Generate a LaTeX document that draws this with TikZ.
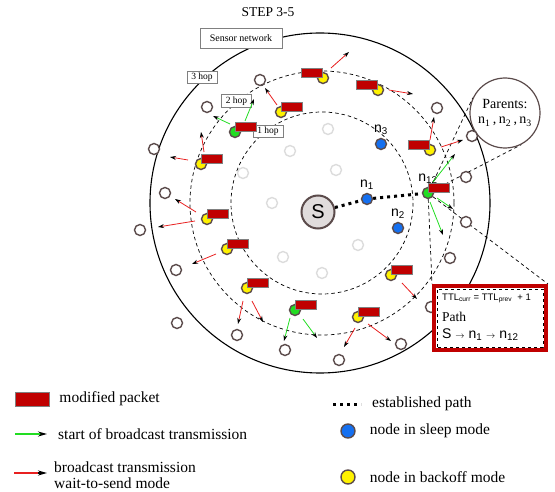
\documentclass[tikz,border=0pt]{standalone}
\usepackage{fontspec}
\setmainfont{Liberation Serif}
\newfontfamily\arialfont{Liberation Sans}
\usetikzlibrary{positioning,arrows.meta,calc}
\pgfdeclarelayer{background}
\pgfsetlayers{background,main}

\definecolor{pktred}{HTML}{C00000}
\definecolor{rim}{HTML}{5B4B4B}
\definecolor{sleepblue}{HTML}{1570F0}
\definecolor{txgreen}{HTML}{22DD22}
\definecolor{txred}{HTML}{E82020}
\definecolor{faint}{HTML}{DCDCDC}
\definecolor{srcgray}{HTML}{E0DCDC}

\newcommand{\nsub}[1]{n\textsubscript{#1}}

\tikzset{
  mote/.style={circle,draw=rim,line width=1.4pt,fill=white,minimum size=11pt,inner sep=0pt},
  ghost/.style={mote,draw=faint},
  sleep/.style={mote,fill=sleepblue},
  backoff/.style={mote,fill=yellow},
  sender/.style={mote,fill=txgreen},
  packet/.style={draw=gray,line width=0.6pt,fill=pktred,minimum width=21pt,minimum height=9pt,inner sep=0pt},
  headtip/.style={-{Stealth[color=black,length=6pt,width=4pt]}},
  bigtip/.style={-{Stealth[color=black,length=9pt,width=5pt]}},
  txarrow/.style={color=txred,line width=0.8pt},
  bcarrow/.style={color=txgreen,line width=0.8pt},
  ring/.style={dash pattern=on 3.5pt off 3pt,line width=0.7pt},
  cone/.style={ring},
  estab/.style={line width=3pt,dash pattern=on 3pt off 4pt},
  hopbox/.style={draw=gray,fill=white,line width=0.6pt,minimum width=30pt,minimum height=12.5pt,inner sep=0pt,font=\fontsize{9.5}{10}\selectfont},
  nlabel/.style={font=\arialfont\fontsize{14}{14}\selectfont,inner sep=0pt,label distance=3pt},
  legtext/.style={anchor=west,inner sep=0pt,font=\fontsize{15.5}{16.5}\selectfont},
}

\begin{document}
\begin{tikzpicture}[x=1pt,y=-1pt]
  \useasboundingbox (0,0) rectangle (555,492);

  % Titel
  \node[font=\fontsize{13.5}{14}\selectfont] (title) at (268,12) {STEP 3-5};

  % Ringe
  \draw[line width=1.1pt] (320,203) circle (170);
  \draw[ring] (322,203) circle (132);
  \draw[ring] (322,203) circle (91);

  \node[hopbox,minimum width=82pt,minimum height=20pt,font=\fontsize{10}{11}\selectfont] (net) at (241,38) {Sensor network};
  \node[hopbox] (hop3) at (202,77.5) {3 hop};
  \node[hopbox] (hop2) at (236.5,101) {2 hop};
  \node[hopbox] (hop1) at (268,131.5) {1 hop};

  % Eltern
  \node[circle,draw=rim,line width=1.2pt,fill=white,minimum size=70pt,align=center,
        font=\fontsize{14}{15}\selectfont] (parents) at (505,113) {Parents:\\\nsub{1}\,,\,\nsub{2}\,,\,\nsub{3}};

  % Knoten
  \foreach \x/\y [count=\i] in {328/129,290/151,336/170,243/173,272/203,358/245,283/257,322/273}
    \node[ghost] (f\i) at (\x,\y) {};
  \foreach \x/\y [count=\i] in {260/80,207/107,154/149,165/193,140/230,176/270,177/323,237/335,
                                 285/350,339/360,401/344,450/258,466/222,466/177,472/136,437/108,431/307}
    \node[mote] (m\i) at (\x,\y) {};

  \node[circle,draw=rim,line width=2pt,fill=srcgray,minimum size=33pt,inner sep=0pt,
        font=\arialfont\fontsize{20}{20}\selectfont] (S) at (318,212) {S};
  \node[sleep,label={[nlabel]above:\nsub{1}}] (n1) at (367,199) {};
  \node[sleep,label={[nlabel]above:\nsub{2}}] (n2) at (398,228) {};
  \node[sleep,label={[nlabel]above:\nsub{3}}] (n3) at (381,144) {};
  \node[sender,label={[nlabel]above:\nsub{12}}] (n12) at (428,193) {};
  \node[packet,anchor=south west] (p13) at (n12.center) {};

  \foreach \i/\x/\y/\side in {1/323/78/south east,2/378/90/south east,3/281/112/south west,
                              5/201/164/south west,6/207/219/south west,7/227/249/south west,
                              8/247/288/south west,10/358/317/south west,11/391/275/south west,
                              12/430/150/south east} {
    \node[backoff] (b\i) at (\x,\y) {};
    \node[packet,anchor=\side] (p\i) at (b\i.center) {};
  }
  \foreach \i/\x/\y in {4/235/132,9/295/310} {
    \node[sender] (b\i) at (\x,\y) {};
    \node[packet,anchor=south west] (p\i) at (b\i.center) {};
  }

  % Broadcast
  \foreach \xa/\ya/\xb/\yb in {331/68/349/52,389/90/413/94,277/105/265/88,204/152/201/132,
                               188/160/170/157,196/212/175/199,195/221/158/227,216/254/192/264,
                               243/301/238/324,252/301/263/322,355/328/344/347,368/324/391/341,
                               402/283/417/299,430/140/434/117,441/147/463/140}
    \draw[txarrow,headtip] (\xa,\ya) -- (\xb,\yb);
  \foreach \xa/\ya/\xb/\yb in {230/124/213/116,245/121/254/99,290/318/284/341,303/319/317/338,
                               433/182/455/154,437/198/453/209,430/202/443/235}
    \draw[bcarrow,headtip] (\xa,\ya) -- (\xb,\yb);

  % Pfad
  \node[draw=pktred,line width=4pt,fill=white,minimum width=112pt,minimum height=64pt] (pathbox) at (490,318) {};
  \draw[dashed,line width=0.6pt] ($(pathbox.south west)+(5,-5)$) rectangle ($(pathbox.north east)+(-5,5)$);
  \node[anchor=west,inner sep=0pt,font=\arialfont\fontsize{9.5}{10}\selectfont] (ttl) at (442,298)
    {TTL\textsubscript{curr} = TTL\textsubscript{prev}\ \ + 1};
  \node[anchor=west,inner sep=0pt,font=\fontsize{13.5}{14}\selectfont] (pathtxt) at (442,317) {Path};
  \node[anchor=west,inner sep=0pt,font=\arialfont\fontsize{14}{14}\selectfont] (route) at (442,335)
    {S {\fontsize{9}{9}\selectfont$\rightarrow$} \nsub{1} {\fontsize{9}{9}\selectfont$\rightarrow$} \nsub{12}};

  \begin{pgfonlayer}{background}
    \draw[estab] (S) -- (n1) -- (n12);
    \draw[cone] (n12) -- (tangent cs:node=parents,point={(n12)},solution=1);
    \draw[cone] (n12) -- (tangent cs:node=parents,point={(n12)},solution=2);
    \draw[cone] (n12) -- (pathbox.north west);
    \draw[cone] (n12) -- (pathbox.north east);
  \end{pgfonlayer}

  % Legende
  \node[packet,minimum width=34pt,minimum height=14pt] (legpkt) at (32,399) {};
  \node[legtext,right=10pt of legpkt] (legpkttxt) {modified packet};
  \coordinate (lg1) at (15,434);
  \coordinate (lg2) at (47,434);
  \draw[bcarrow,bigtip,line width=1.2pt] (lg1) -- (lg2);
  \node[legtext,right=11pt of lg2] (legbctxt) {start of broadcast transmission};
  \coordinate (lr1) at (14,473);
  \coordinate (lr2) at (47,473);
  \draw[txarrow,line width=1.5pt] (lr1) -- ($(lr2)+(-8,0)$);
  \draw[bigtip,line width=1.5pt] ($(lr2)+(-9,0)$) -- (lr2);
  \node[legtext,right=7pt of lr2,align=left,yshift=-2pt] (legtxtxt) {broadcast transmission\\wait-to-send mode};
  \coordinate (le1) at (333,404);
  \coordinate (le2) at (361,404);
  \draw[estab] (le1) -- (le2);
  \node[legtext,right=11pt of le2] (legestxt) {established path};
  \node[sleep,minimum size=14pt] (legsleep) at (348,431) {};
  \node[legtext,right=14pt of legsleep] (legsltxt) {node in sleep mode};
  \node[backoff,minimum size=14pt] (legback) at (348,477) {};
  \node[legtext,right=14pt of legback] (legbotxt) {node in backoff mode};
\end{tikzpicture}
\end{document}
